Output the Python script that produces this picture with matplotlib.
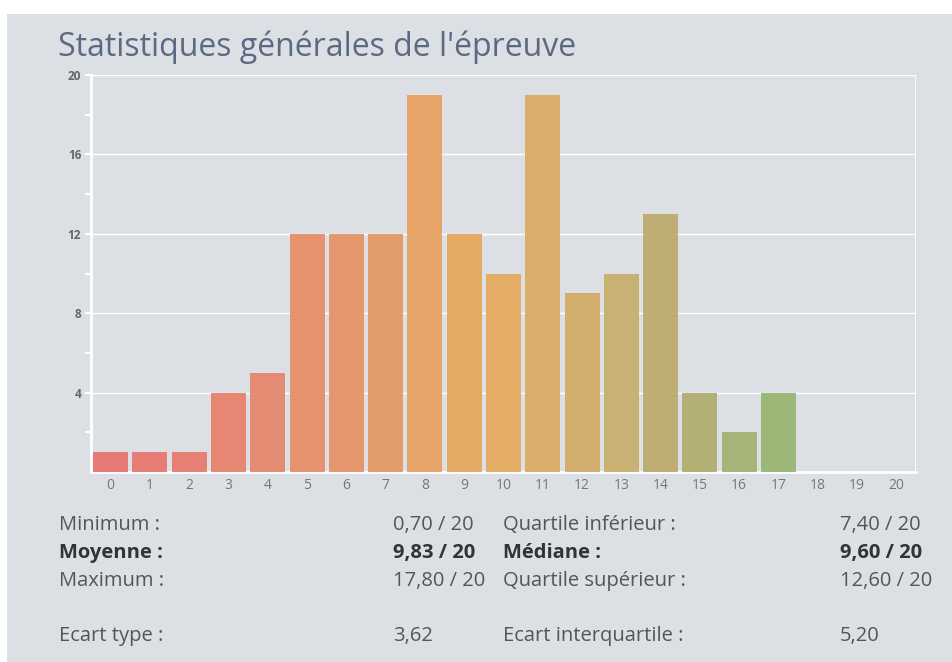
import matplotlib.pyplot as plt
from matplotlib.patches import Rectangle

# notes 0..20 and number of students per note
notes = list(range(21))
counts = [1, 1, 1, 4, 5, 12, 12, 12, 19, 12, 10, 19, 9, 10, 13, 4, 2, 4, 0, 0, 0]
bar_colors = ['#e8736f', '#e8756d', '#e8786c', '#e6816b', '#e5866a', '#e68d66',
              '#e59264', '#e49862', '#e8a05f', '#e6a55c', '#e5aa5b', '#daaa62',
              '#d3ab66', '#c8ad6b', '#bcab6d', '#b0ad6e', '#a3b170', '#96b571',
              '#96b571', '#96b571', '#96b571']

stats_left = [('Minimum :', '0,70 / 20', False),
              ('Moyenne :', '9,83 / 20', True),
              ('Maximum :', '17,80 / 20', False),
              ('Ecart type :', '3,62', False)]
stats_right = [('Quartile inférieur :', '7,40 / 20', False),
               ('Médiane :', '9,60 / 20', True),
               ('Quartile supérieur :', '12,60 / 20', False),
               ('Ecart interquartile :', '5,20', False)]

W, H = 952, 662
bg = '#dcdfe4'
plt.rcParams['font.family'] = ['Open Sans', 'DejaVu Sans']

fig = plt.figure(figsize=(W / 100, H / 100), dpi=100, facecolor='white')
fig.patches.append(Rectangle((7 / W, 0), 1, (H - 14) / H, transform=fig.transFigure,
                             facecolor=bg, edgecolor='none', zorder=-10))

ax = fig.add_axes([91 / W, 1 - 472 / H, (916 - 91) / W, (472 - 75) / H])
ax.set_zorder(1)
ax.patch.set_alpha(0)

ax.bar(notes, counts, width=0.89, color=bar_colors, alpha=0.93, edgecolor='none', zorder=3)

ax.set_xlim(-0.5, 20.5)
ax.set_ylim(0, 20)
ax.set_yticks([4, 8, 12, 16, 20])
ax.set_yticks([2, 6, 10, 14, 18], minor=True)
ax.set_xticks(notes)
ax.grid(axis='y', color='white', linewidth=1, zorder=1)
ax.axvline(20.5, color='white', linewidth=1.2, zorder=1)

for side in ['top', 'right']:
    ax.spines[side].set_visible(False)
for side in ['left', 'bottom']:
    ax.spines[side].set_color('white')
    ax.spines[side].set_linewidth(2)

ax.tick_params(axis='y', which='both', color='white', length=4, width=1.5,
               labelsize=8.5, labelcolor='#666666', pad=3)
ax.tick_params(axis='x', length=0, labelsize=10, labelcolor='#777777', pad=4)
for lab in ax.get_yticklabels():
    lab.set_fontweight('bold')

fig.text(58 / W, 1 - 47 / H, "Statistiques générales de l'épreuve",
         fontsize=23, color='#5b6a82', va='center', ha='left')

row_y = [525, 553, 581, 636]
fs = 14.5
for (lab, val, bold), y in zip(stats_left, row_y):
    c = '#333333' if bold else '#555555'
    w = 'bold' if bold else 'normal'
    fig.text(59 / W, 1 - y / H, lab, fontsize=fs, color=c, fontweight=w, va='center')
    fig.text(393 / W, 1 - y / H, val, fontsize=fs, color=c, fontweight=w, va='center')
for (lab, val, bold), y in zip(stats_right, row_y):
    c = '#333333' if bold else '#555555'
    w = 'bold' if bold else 'normal'
    fig.text(503 / W, 1 - y / H, lab, fontsize=fs, color=c, fontweight=w, va='center')
    fig.text(840 / W, 1 - y / H, val, fontsize=fs, color=c, fontweight=w, va='center')

fig.savefig('out.png', dpi=100, facecolor=fig.get_facecolor())
